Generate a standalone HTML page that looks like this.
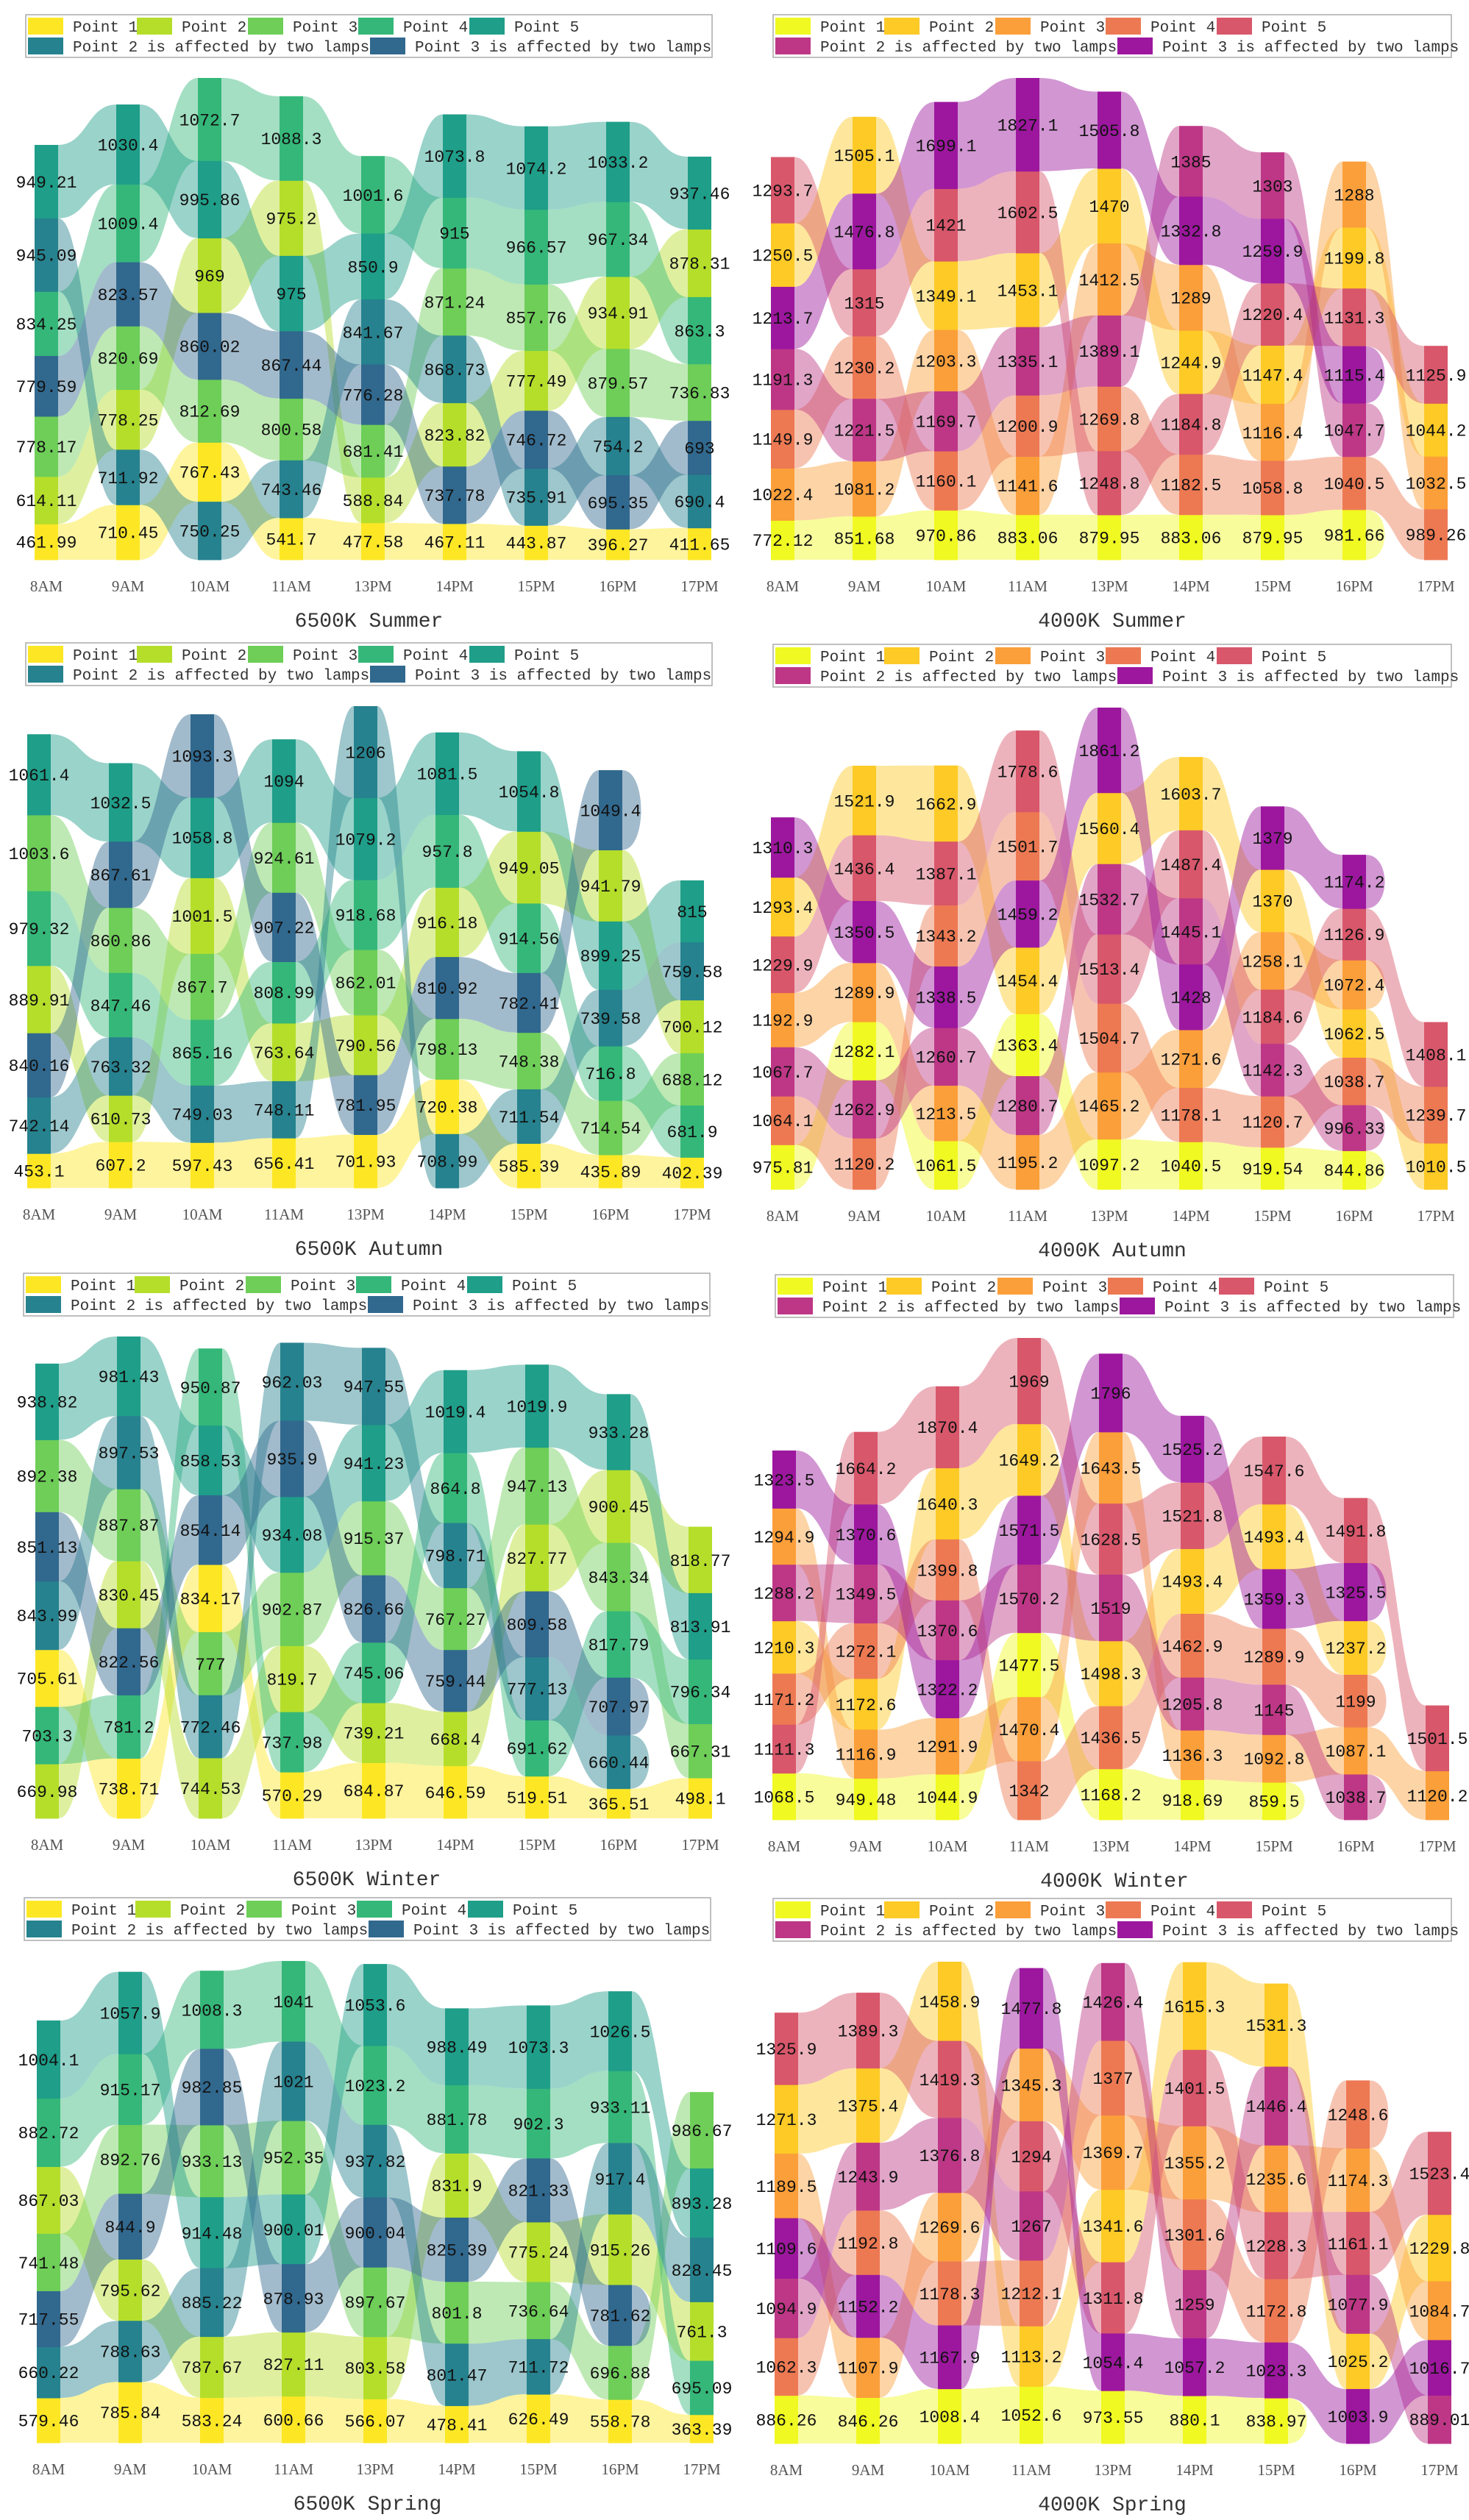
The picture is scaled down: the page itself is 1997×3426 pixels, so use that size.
<!DOCTYPE html>
<html><head><meta charset="utf-8"><style>html,body{margin:0;padding:0;background:#fff}svg{display:block}</style></head>
<body>
<svg id="s" xmlns="http://www.w3.org/2000/svg" width="1997" height="3426" viewBox="0 0 1997 3426"></svg>
<script>
const V=['#fde725','#b5de2b','#6ece58','#35b779','#1f9e89','#26828e','#31688e'];
const P=['#f0f921','#fdca26','#fb9f3a','#ed7953','#d8576b','#bd3786','#9c179e'];
const XL=['8AM','9AM','10AM','11AM','13PM','14PM','15PM','16PM','17PM'];
const panels=[
{pal:V,L:20,x0:63,lx:35,lw:933,title:'6500K Summer',cols:[
[[949.21,4],[945.09,5],[834.25,3],[779.59,6],[778.17,2],[614.11,1],[461.99,0]],
[[1030.4,4],[1009.4,3],[823.57,6],[820.69,2],[778.25,1],[711.92,5],[710.45,0]],
[[1072.7,3],[995.86,4],[969,1],[860.02,6],[812.69,2],[767.43,0],[750.25,5]],
[[1088.3,3],[975.2,1],[975,4],[867.44,6],[800.58,2],[743.46,5],[541.7,0]],
[[1001.6,3],[850.9,4],[841.67,5],[776.28,6],[681.41,2],[588.84,1],[477.58,0]],
[[1073.8,4],[915,3],[871.24,2],[868.73,5],[823.82,1],[737.78,6],[467.11,0]],
[[1074.2,4],[966.57,3],[857.76,2],[777.49,1],[746.72,6],[735.91,5],[443.87,0]],
[[1033.2,4],[967.34,3],[934.91,1],[879.57,2],[754.2,5],[695.35,6],[396.27,0]],
[[937.46,4],[878.31,1],[863.3,3],[736.83,2],[693,6],[690.4,5],[411.65,0]]]},
{pal:P,L:20,x0:1064,lx:1051,lw:922,title:'4000K Summer',cols:[
[[1293.7,4],[1250.5,1],[1213.7,6],[1191.3,5],[1149.9,3],[1022.4,2],[772.12,0]],
[[1505.1,1],[1476.8,6],[1315,4],[1230.2,3],[1221.5,5],[1081.2,2],[851.68,0]],
[[1699.1,6],[1421,4],[1349.1,1],[1203.3,2],[1169.7,5],[1160.1,3],[970.86,0]],
[[1827.1,6],[1602.5,4],[1453.1,1],[1335.1,5],[1200.9,3],[1141.6,2],[883.06,0]],
[[1505.8,6],[1470,1],[1412.5,2],[1389.1,5],[1269.8,3],[1248.8,4],[879.95,0]],
[[1385,5],[1332.8,6],[1289,2],[1244.9,1],[1184.8,4],[1182.5,3],[883.06,0]],
[[1303,5],[1259.9,6],[1220.4,4],[1147.4,1],[1116.4,2],[1058.8,3],[879.95,0]],
[[1288,2],[1199.8,1],[1131.3,4],[1115.4,6],[1047.7,5],[1040.5,3],[981.66,0]],
[[1125.9,4],[1044.2,1],[1032.5,2],[989.26,3]]]},
{pal:V,L:874,x0:53,lx:35,lw:933,title:'6500K Autumn',cols:[
[[1061.4,4],[1003.6,2],[979.32,3],[889.91,1],[840.16,6],[742.14,5],[453.1,0]],
[[1032.5,4],[867.61,6],[860.86,2],[847.46,3],[763.32,5],[610.73,1],[607.2,0]],
[[1093.3,6],[1058.8,4],[1001.5,1],[867.7,2],[865.16,3],[749.03,5],[597.43,0]],
[[1094,4],[924.61,2],[907.22,6],[808.99,3],[763.64,1],[748.11,5],[656.41,0]],
[[1206,5],[1079.2,4],[918.68,3],[862.01,2],[790.56,1],[781.95,6],[701.93,0]],
[[1081.5,4],[957.8,3],[916.18,1],[810.92,6],[798.13,2],[720.38,0],[708.99,5]],
[[1054.8,4],[949.05,1],[914.56,3],[782.41,6],[748.38,2],[711.54,5],[585.39,0]],
[[1049.4,6],[941.79,1],[899.25,4],[739.58,5],[716.8,3],[714.54,2],[435.89,0]],
[[815,4],[759.58,5],[700.12,1],[688.12,2],[681.9,3],[402.39,0]]]},
{pal:P,L:876,x0:1064,lx:1051,lw:922,title:'4000K Autumn',cols:[
[[1310.3,6],[1293.4,1],[1229.9,4],[1192.9,2],[1067.7,5],[1064.1,3],[975.81,0]],
[[1521.9,1],[1436.4,4],[1350.5,6],[1289.9,2],[1282.1,0],[1262.9,5],[1120.2,3]],
[[1662.9,1],[1387.1,4],[1343.2,3],[1338.5,6],[1260.7,5],[1213.5,2],[1061.5,0]],
[[1778.6,4],[1501.7,3],[1459.2,6],[1454.4,1],[1363.4,0],[1280.7,5],[1195.2,2]],
[[1861.2,6],[1560.4,1],[1532.7,5],[1513.4,4],[1504.7,3],[1465.2,2],[1097.2,0]],
[[1603.7,1],[1487.4,4],[1445.1,5],[1428,6],[1271.6,2],[1178.1,3],[1040.5,0]],
[[1379,6],[1370,1],[1258.1,2],[1184.6,4],[1142.3,5],[1120.7,3],[919.54,0]],
[[1174.2,6],[1126.9,4],[1072.4,2],[1062.5,1],[1038.7,3],[996.33,5],[844.86,0]],
[[1408.1,4],[1239.7,3],[1010.5,1]]]},
{pal:V,L:1731,x0:64,lx:32,lw:933,title:'6500K Winter',cols:[
[[938.82,4],[892.38,2],[851.13,6],[843.99,5],[705.61,0],[703.3,3],[669.98,1]],
[[981.43,4],[897.53,5],[887.87,2],[830.45,1],[822.56,6],[781.2,3],[738.71,0]],
[[950.87,3],[858.53,4],[854.14,6],[834.17,0],[777,2],[772.46,5],[744.53,1]],
[[962.03,5],[935.9,6],[934.08,4],[902.87,2],[819.7,1],[737.98,3],[570.29,0]],
[[947.55,5],[941.23,4],[915.37,2],[826.66,6],[745.06,3],[739.21,1],[684.87,0]],
[[1019.4,4],[864.8,3],[798.71,5],[767.27,2],[759.44,6],[668.4,1],[646.59,0]],
[[1019.9,4],[947.13,2],[827.77,1],[809.58,6],[777.13,5],[691.62,3],[519.51,0]],
[[933.28,4],[900.45,1],[843.34,2],[817.79,3],[707.97,6],[660.44,5],[365.51,0]],
[[818.77,1],[813.91,4],[796.34,3],[667.31,2],[498.1,0]]]},
{pal:P,L:1733,x0:1066,lx:1054,lw:922,title:'4000K Winter',cols:[
[[1323.5,6],[1294.9,2],[1288.2,5],[1210.3,1],[1171.2,3],[1111.3,4],[1068.5,0]],
[[1664.2,4],[1370.6,6],[1349.5,5],[1272.1,3],[1172.6,1],[1116.9,2],[949.48,0]],
[[1870.4,4],[1640.3,1],[1399.8,3],[1370.6,5],[1322.2,6],[1291.9,2],[1044.9,0]],
[[1969,4],[1649.2,1],[1571.5,6],[1570.2,5],[1477.5,0],[1470.4,2],[1342,3]],
[[1796,6],[1643.5,2],[1628.5,4],[1519,5],[1498.3,1],[1436.5,3],[1168.2,0]],
[[1525.2,6],[1521.8,4],[1493.4,1],[1462.9,3],[1205.8,5],[1136.3,2],[918.69,0]],
[[1547.6,4],[1493.4,1],[1359.3,6],[1289.9,3],[1145,5],[1092.8,2],[859.5,0]],
[[1491.8,4],[1325.5,6],[1237.2,1],[1199,3],[1087.1,2],[1038.7,5]],
[[1501.5,4],[1120.2,2]]]},
{pal:V,L:2580,x0:66,lx:33,lw:933,title:'6500K Spring',cols:[
[[1004.1,4],[882.72,3],[867.03,1],[741.48,2],[717.55,6],[660.22,5],[579.46,0]],
[[1057.9,4],[915.17,3],[892.76,2],[844.9,6],[795.62,1],[788.63,5],[785.84,0]],
[[1008.3,3],[982.85,6],[933.13,2],[914.48,4],[885.22,5],[787.67,1],[583.24,0]],
[[1041,3],[1021,5],[952.35,2],[900.01,4],[878.93,6],[827.11,1],[600.66,0]],
[[1053.6,4],[1023.2,3],[937.82,5],[900.04,6],[897.67,2],[803.58,1],[566.07,0]],
[[988.49,4],[881.78,3],[831.9,1],[825.39,6],[801.8,2],[801.47,5],[478.41,0]],
[[1073.3,4],[902.3,3],[821.33,6],[775.24,1],[736.64,2],[711.72,5],[626.49,0]],
[[1026.5,4],[933.11,3],[917.4,5],[915.26,1],[781.62,6],[696.88,2],[558.78,0]],
[[986.67,2],[893.28,4],[828.45,5],[761.3,1],[695.09,3],[363.39,0]]]},
{pal:P,L:2581,x0:1069,lx:1051,lw:922,title:'4000K Spring',cols:[
[[1325.9,4],[1271.3,1],[1189.5,2],[1109.6,6],[1094.9,5],[1062.3,3],[886.26,0]],
[[1389.3,4],[1375.4,1],[1243.9,5],[1192.8,3],[1152.2,6],[1107.9,2],[846.26,0]],
[[1458.9,1],[1419.3,4],[1376.8,5],[1269.6,2],[1178.3,3],[1167.9,6],[1008.4,0]],
[[1477.8,6],[1345.3,2],[1294,4],[1267,5],[1212.1,3],[1113.2,1],[1052.6,0]],
[[1426.4,5],[1377,3],[1369.7,2],[1341.6,1],[1311.8,4],[1054.4,6],[973.55,0]],
[[1615.3,1],[1401.5,4],[1355.2,2],[1301.6,3],[1259,5],[1057.2,6],[880.1,0]],
[[1531.3,1],[1446.4,5],[1235.6,2],[1228.3,4],[1172.8,3],[1023.3,6],[838.97,0]],
[[1248.6,3],[1174.3,2],[1161.1,4],[1077.9,5],[1025.2,1],[1003.9,6]],
[[1523.4,4],[1229.8,1],[1084.7,2],[1016.7,6],[889.01,5]]]}
];
const LEG=['Point 1','Point 2','Point 3','Point 4','Point 5','Point 2 is affected by two lamps','Point 3 is affected by two lamps'];
let out='<rect width="1997" height="3426" fill="#fff"/>';
const W=16,C=34,SP=111;
for(const p of panels){
  const B=p.L+741;
  const k=655/Math.max(...p.cols.map(c=>c.reduce((a,v)=>a+v[0],0)));
  const X=i=>p.x0+i*SP;
  const seg=p.cols.map(c=>{const m={};let y=B;for(let j=c.length-1;j>=0;j--){const h=c[j][0]*k;m[c[j][1]]={t:y-h,b:y,v:c[j][0]};y-=h;}return m;});
  // ribbons
  for(let si=0;si<7;si++){
    let i=0;
    while(i<9){
      if(!seg[i][si]){i++;continue;}
      let j=i;while(j+1<9&&seg[j+1][si])j++;
      let d=`M${X(i)-W},${seg[i][si].t}`;
      for(let m=i;m<=j;m++){
        const s=seg[m][si];d+=` L${X(m)+W},${s.t}`;
        if(m<j){const n=seg[m+1][si],mx=(X(m)+X(m+1))/2;d+=` C${mx},${s.t} ${mx},${n.t} ${X(m+1)-W},${n.t}`;}
      }
      const e=seg[j][si];
      if(j==8)d+=` L${X(j)+W},${e.b}`;else d+=` C${X(j)+W+C},${e.t} ${X(j)+W+C},${e.b} ${X(j)+W},${e.b}`;
      for(let m=j;m>=i;m--){
        const s=seg[m][si];d+=` L${X(m)-W},${s.b}`;
        if(m>i){const n=seg[m-1][si],mx=(X(m)+X(m-1))/2;d+=` C${mx},${s.b} ${mx},${n.b} ${X(m-1)+W},${n.b}`;}
      }
      const f=seg[i][si];
      if(i==0)d+=' Z';else d+=` C${X(i)-W-C},${f.b} ${X(i)-W-C},${f.t} ${X(i)-W},${f.t} Z`;
      out+=`<path d="${d}" fill="${p.pal[si]}" fill-opacity="0.45"/>`;
      i=j+1;
    }
  }
  // bars
  seg.forEach((m,i)=>{for(const si in m){const s=m[si];out+=`<rect x="${X(i)-W}" y="${s.t}" width="${2*W}" height="${s.b-s.t+0.5}" fill="${p.pal[si]}"/>`;}});
  // labels
  seg.forEach((m,i)=>{for(const si in m){const s=m[si];out+=`<text x="${X(i)}" y="${(s.t+s.b)/2+8}" text-anchor="middle" font-family="Liberation Mono, monospace" font-size="23" fill="#111">${s.v}</text>`;}});
  // x labels
  XL.forEach((t,i)=>{out+=`<text x="${X(i)}" y="${p.L+784}" text-anchor="middle" font-family="Liberation Serif, serif" font-size="21" fill="#555">${t}</text>`;});
  // title
  out+=`<text x="${p.lx+p.lw/2}" y="${p.L+832}" text-anchor="middle" font-family="Liberation Mono, monospace" font-size="28" fill="#333">${p.title}</text>`;
  // legend
  out+=`<rect x="${p.lx}" y="${p.L}" width="${p.lw}" height="58" fill="#fff" stroke="#aaa" stroke-width="1.5"/>`;
  const pos=[[3,0],[151,0],[302,0],[452,0],[603,0],[3,1],[468,1]];
  pos.forEach((q,i)=>{const x=p.lx+q[0],y=p.L+4+q[1]*27;
    out+=`<rect x="${x}" y="${y}" width="48" height="23" fill="${p.pal[i]}"/>`;
    out+=`<text x="${x+61}" y="${y+19}" font-family="Liberation Mono, monospace" font-size="21" fill="#333">${LEG[i]}</text>`;});
}
document.getElementById('s').innerHTML=out;
</script>
</body></html>
